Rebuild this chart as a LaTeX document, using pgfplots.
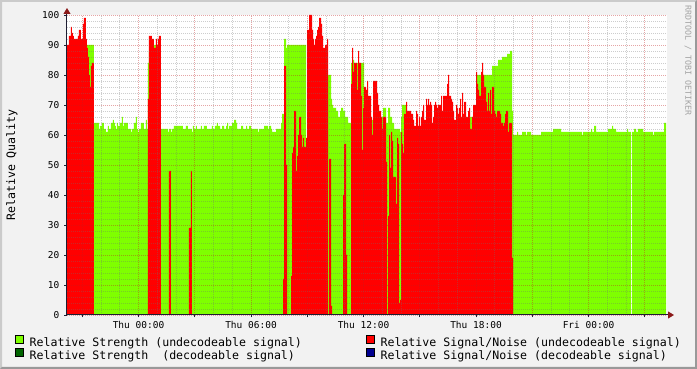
\documentclass[border=0pt]{standalone}
\usepackage{pgfplots}
\pgfplotsset{compat=1.18}
\usepackage{pgfplotstable}
\usepackage{fontspec}
\setmainfont{DejaVu Sans Mono}
\usetikzlibrary{arrows.meta}

\definecolor{rrdback}{HTML}{F2F2F2}
\definecolor{shadeA}{HTML}{CBCBCB}
\definecolor{shadeB}{HTML}{999999}
\definecolor{lgreen}{HTML}{7FFF00}
\definecolor{rrdred}{HTML}{FF0000}
\definecolor{dgreen}{HTML}{006400}
\definecolor{dnavy}{HTML}{000090}
\definecolor{arrowred}{HTML}{8B1A1A}
\definecolor{axiscol}{HTML}{1E1E32}
\definecolor{mgridcol}{HTML}{C02020}
\definecolor{gridcol}{HTML}{707070}
\definecolor{credit}{HTML}{A4A4A4}

% time axis: one unit = one pixel column of the original graph (3.2 min)
\pgfplotstableread{
x y
0 85
19 90
27 64
32 62
33 63
35 64
37 62
39 61
41 63
42 62
44 64
46 65
47 64
48 63
49 62
50 64
51 63
53 64
55 66
56 63
57 64
61 62
64 61
65 62
67 64
69 66
70 62
71 61
72 62
74 64
77 62
79 65
80 62
81 84
82 88
87 90
89 88
94 62
101 61
102 62
104 61
105 62
107 63
116 62
119 63
121 62
125 61
126 63
127 62
129 63
130 62
134 63
135 62
137 63
140 62
145 63
146 62
148 63
150 64
151 63
153 62
155 63
157 62
159 63
160 64
161 62
162 63
165 64
167 65
169 64
170 62
174 63
176 62
179 63
180 62
182 63
184 62
191 61
192 62
197 63
201 62
202 63
204 62
205 61
209 62
214 64
215 67
217 92
219 89
220 90
239 58
240 80
264 72
265 70
266 69
269 68
271 66
273 68
274 69
276 68
278 66
281 64
284 84
285 85
287 84
297 64
305 65
306 64
315 66
316 69
319 64
321 69
323 66
325 64
327 62
333 61
334 66
335 70
339 62
403 66
406 62
409 80
425 83
431 85
435 86
440 87
443 88
445 68
446 60
450 61
451 60
455 61
459 60
460 61
464 60
474 61
486 62
494 61
515 60
516 61
524 62
525 61
527 63
529 61
541 62
545 63
546 62
549 61
560 62
561 61
564 0
565 61
567 62
569 61
571 62
576 61
586 60
587 61
597 64
599 64
}\strengthdata

\pgfplotstableread{
x y
0 90
2 93
4 96
5 94
6 93
7 92
11 93
12 95
14 92
16 97
17 99
19 92
20 89
21 86
22 80
23 76
24 83
25 84
27 0
81 72
82 93
85 92
87 89
89 92
90 90
91 92
92 93
94 0
102 48
104 0
122 29
124 48
125 0
216 12
217 83
219 50
220 0
224 13
225 54
226 56
227 68
229 48
230 53
231 60
232 66
234 60
235 56
236 59
237 56
239 59
240 95
242 100
245 95
246 92
247 90
248 92
249 93
250 95
251 96
252 99
254 97
255 93
256 89
258 90
260 92
261 0
262 52
264 3
265 0
276 40
277 57
279 20
280 0
284 77
285 89
286 81
287 84
290 75
291 88
292 84
294 73
295 55
296 69
297 76
299 75
300 78
301 73
304 66
305 60
306 78
310 74
311 70
312 68
314 66
315 62
316 66
319 51
320 0
321 33
322 60
323 49
324 61
325 58
326 46
329 37
330 59
331 57
332 4
333 5
334 61
335 57
336 54
337 67
339 71
340 68
344 67
346 65
347 63
349 68
350 67
351 63
352 66
353 63
354 66
355 68
356 70
357 65
359 72
360 70
361 72
362 70
363 71
364 70
365 64
366 66
367 70
368 71
369 70
370 69
371 70
374 73
375 68
376 73
380 77
381 80
382 73
384 72
385 71
386 68
387 65
389 70
390 69
391 67
392 69
393 72
394 66
395 74
396 67
397 71
399 66
401 68
402 69
403 62
405 66
406 70
409 81
410 77
411 75
412 73
414 81
415 84
416 80
417 76
419 71
420 68
421 74
422 68
423 75
424 67
425 76
427 68
428 67
429 66
430 68
433 67
434 64
436 63
437 64
438 67
439 68
441 61
442 64
445 19
446 0
599 0
}\snrdata

\begin{document}
\begin{tikzpicture}[x=1pt,y=1pt]
\path[use as bounding box] (0,0) rectangle (697,369);
\fill[rrdback] (0,0) rectangle (697,369);
\fill[shadeA] (0,0) -- (0,369) -- (697,369) -- (695,367) -- (2,367) -- (2,2) -- cycle;
\fill[shadeB] (697,369) -- (697,0) -- (0,0) -- (2,2) -- (695,2) -- (695,367) -- cycle;

\begin{axis}[
  at={(67pt,54pt)}, anchor=south west,
  scale only axis, width=600pt, height=300pt,
  xmin=0, xmax=600, ymin=0, ymax=100,
  axis background/.style={fill=white},
  axis on top,
  axis lines=left,
  axis line style={draw=axiscol, line width=1pt},
  x axis line style={-{Triangle[length=6pt,width=7pt,color=arrowred]}, shorten >=-7pt},
  y axis line style={-{Triangle[length=6pt,width=7pt,color=arrowred]}, shorten >=-7pt},
  xtick={15.25,71.5,127.75,184,240.25,296.5,352.75,409,465.25,521.5,577.75},
  xticklabels={,Thu 00:00,,Thu 06:00,,Thu 12:00,,Thu 18:00,,Fri 00:00,},
  minor x tick num=2,
  ytick={0,10,...,100},
  minor y tick num=4,
  grid=both,
  major grid style={draw=mgridcol, draw opacity=0.4, line width=0.8pt, dash pattern=on 1pt off 1pt},
  minor grid style={draw=gridcol, draw opacity=0.35, line width=0.8pt, dash pattern=on 1pt off 1pt},
  tick align=outside,
  major tick length=2.5pt,
  minor tick length=0pt,
  tick style={draw=axiscol, line width=0.8pt},
  /pgf/number format/assume math mode=true,
  ticklabel style={font=\fontsize{9.5}{11}\selectfont, text=black},
  yticklabel style={inner sep=0pt, anchor=east, xshift=-5pt},
  xticklabel style={inner sep=0pt, anchor=north, yshift=-4pt},
  ylabel={Relative Quality},
  ylabel style={font=\fontsize{11.6}{13}\selectfont, at={(axis description cs:-0.0917,0.5)}, anchor=center},
  legend columns=2,
  legend cell align=left,
  legend image code/.code={\draw[#1, draw=black, line width=0.8pt] (0pt,0pt) rectangle (8pt,8pt); \path (14pt,0pt);},
  legend style={at={(rel axis cs:0,0)}, anchor=north west, xshift=-52pt, yshift=-20pt,
    draw=none, fill=none, inner sep=0pt, outer sep=0pt, row sep=0pt,
    nodes={inner sep=0pt, text height=8pt, text depth=2pt, font=\fontsize{11.6}{13}\selectfont},
    /tikz/every even column/.append style={column sep=64pt}},
]
\addplot[fill=lgreen, draw=none, const plot mark left] table[x=x,y=y] {\strengthdata} \closedcycle;
\addlegendentry{Relative Strength (undecodeable signal)}
\addplot[fill=rrdred, draw=none, const plot mark left] table[x=x,y=y] {\snrdata} \closedcycle;
\addlegendentry{Relative Signal/Noise (undecodeable signal)}
\addlegendimage{fill=dgreen}
\addlegendentry{Relative Strength~ (decodeable signal)}
\addlegendimage{fill=dnavy}
\addlegendentry{Relative Signal/Noise (decodeable signal)}
\end{axis}

\node[rotate=-90, anchor=mid west, inner sep=0pt, text=credit, font=\fontsize{8.3}{10}\selectfont] at (688,364) {RRDTOOL / TOBI OETIKER};
\end{tikzpicture}
\end{document}
